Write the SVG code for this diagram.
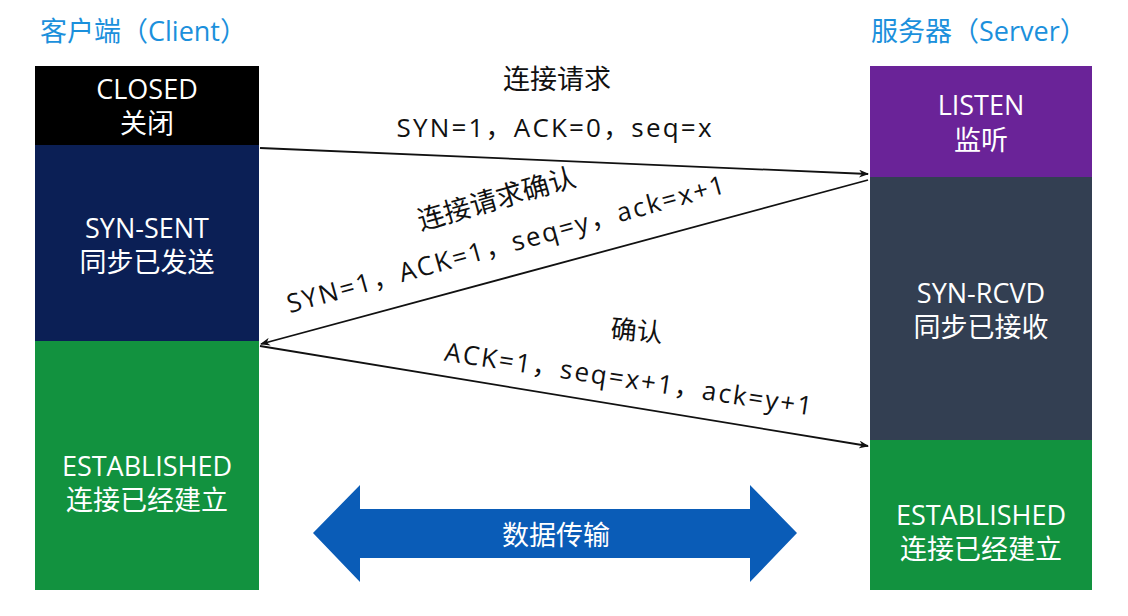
<svg xmlns="http://www.w3.org/2000/svg" width="1128" height="616" viewBox="0 0 1128 616">
<defs>
<marker id="ah" markerWidth="10" markerHeight="8" refX="9" refY="4" orient="auto" markerUnits="userSpaceOnUse">
<path d="M0,0 L10,4 L0,8 L3,4 Z" fill="#111"/>
</marker>
<style>
.t{font-family:"Open Sans","Noto Sans CJK SC",sans-serif;}
.title{font-size:27px;fill:#1b90dc;}
.st{font-size:27px;fill:#fff;text-anchor:middle;}
.lb{font-size:26px;fill:#111;text-anchor:middle;}
.ln{stroke:#111;stroke-width:1.8;fill:none;marker-end:url(#ah);}
</style>
</defs>
<rect width="1128" height="616" fill="#fff"/>
<text class="t title" x="40" y="41">客户端（Client）</text>
<text class="t title" x="871" y="41">服务器（Server）</text>

<g id="client-closed">
<rect x="35" y="66" width="224" height="80" fill="#000"/>
<text class="t st" x="147" y="99">CLOSED</text>
<text class="t st" x="147" y="133">关闭</text>
</g>
<g id="client-synsent">
<rect x="35" y="145" width="224" height="197" fill="#0b1f55"/>
<text class="t st" x="147" y="238">SYN-SENT</text>
<text class="t st" x="147" y="272">同步已发送</text>
</g>
<g id="client-established">
<rect x="35" y="341" width="224" height="249" fill="#12923f"/>
<text class="t st" x="147" y="476">ESTABLISHED</text>
<text class="t st" x="147" y="510">连接已经建立</text>
</g>

<g id="server-listen">
<rect x="870" y="66" width="222" height="112" fill="#6a2398"/>
<text class="t st" x="981" y="115">LISTEN</text>
<text class="t st" x="981" y="150">监听</text>
</g>
<g id="server-synrcvd">
<rect x="870" y="177" width="222" height="264" fill="#333f52"/>
<text class="t st" x="981" y="303">SYN-RCVD</text>
<text class="t st" x="981" y="337">同步已接收</text>
</g>
<g id="server-established">
<rect x="870" y="440" width="222" height="150" fill="#12923f"/>
<text class="t st" x="981" y="525">ESTABLISHED</text>
<text class="t st" x="981" y="559">连接已经建立</text>
</g>

<g id="connectors">
<line class="ln" x1="260" y1="148" x2="868" y2="174"/>
<line class="ln" x1="868" y1="180" x2="261" y2="344"/>
<line class="ln" x1="260" y1="346" x2="868" y2="446"/>
<text class="t lb" x="557" y="89" style="font-size:27px">连接请求</text>
<text class="t lb" x="554" y="137" textLength="315" lengthAdjust="spacing">SYN=1，ACK=0，seq=x</text>
<text class="t lb" transform="translate(499,208) rotate(-16)" textLength="163" lengthAdjust="spacing" style="font-size:27px">连接请求确认</text>
<text class="t lb" transform="translate(508,253) rotate(-15.4)" textLength="453" lengthAdjust="spacing">SYN=1，ACK=1，seq=y，ack=x+1</text>
<text class="t lb" transform="translate(636,340) rotate(5)">确认</text>
<text class="t lb" transform="translate(627,388) rotate(8.5)" textLength="371" lengthAdjust="spacing">ACK=1，seq=x+1，ack=y+1</text>
</g>

<g id="data-transfer">
<polygon points="313,533 360,485 360,509 750,509 750,485 797,533 750,582 750,558 360,558 360,582" fill="#0a5cb7"/>
<text class="t st" x="556" y="545" style="font-size:27px">数据传输</text>
</g>
</svg>
